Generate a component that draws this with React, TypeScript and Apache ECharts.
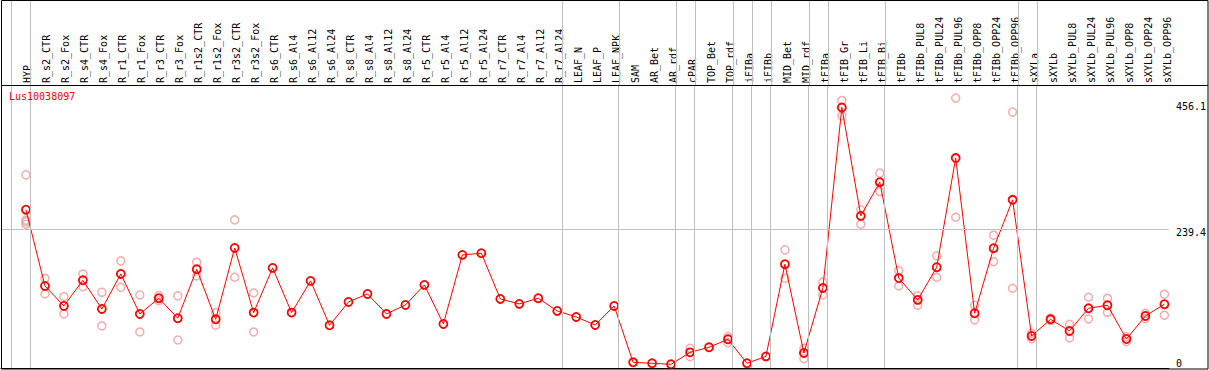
import React, { useEffect, useRef } from "react";
import * as echarts from "echarts";

const categories = [
  "HYP", "R_s2_CTR", "R_s2_Fox", "R_s4_CTR", "R_s4_Fox", "R_r1_CTR", "R_r1_Fox", "R_r3_CTR", "R_r3_Fox",
  "R_r1s2_CTR", "R_r1s2_Fox", "R_r3s2_CTR", "R_r3s2_Fox", "R_s6_CTR", "R_s6_Al4", "R_s6_Al12", "R_s6_Al24",
  "R_s8_CTR", "R_s8_Al4", "R_s8_Al12", "R_s8_Al24", "R_r5_CTR", "R_r5_Al4", "R_r5_Al12", "R_r5_Al24",
  "R_r7_CTR", "R_r7_Al4", "R_r7_Al12", "R_r7_Al24", "LEAF_N", "LEAF_P", "LEAF_NPK", "SAM", "AR_Bet", "AR_rdf",
  "cPAR", "TOP_Bet", "TOP_rdf", "iFIBa", "iFIBb", "MID_Bet", "MID_rdf", "tFIBa", "tFIB_Gr", "tFIB_Li", "tFIB_Bi",
  "tFIBb", "tFIBb_PUL8", "tFIBb_PUL24", "tFIBb_PUL96", "tFIBb_OPP8", "tFIBb_OPP24", "tFIBb_OPP96",
  "sXYLa", "sXYLb", "sXYLb_PUL8", "sXYLb_PUL24", "sXYLb_PUL96", "sXYLb_OPP8", "sXYLb_OPP24", "sXYLb_OPP96",
];

const meanValues = [
  273, 141.5, 107, 151.3, 101.8, 162.2, 93.2, 120.3, 85.8, 170.3, 84, 207, 95.5, 172.6, 95.5, 150.2, 73.7,
  113.9, 127.7, 93.2, 108.7, 143.3, 75.9, 195, 197.9, 119.1, 110.5, 120.3, 98.4, 88, 74.2, 107, 9.8, 8.1, 6.4,
  27, 35.7, 49.5, 8.1, 20, 179, 25.9, 138, 449.3, 262.3, 320.5, 155, 117.4, 173.8, 362, 94.4, 206.6, 290,
  55.2, 84, 63.9, 103, 108.2, 50, 89.7, 110,
];

const replicateValues: number[][] = [
  [333, 255, 252, 248], [154.8, 127.7], [123, 93.2], [162.2, 140.3], [130.6, 72.5], [184.7, 139], [126, 62.1],
  [124.8, 116.2], [124.3, 48.3], [182.4, 158.8], [95.5, 73.7], [255.4, 156.5], [129.4, 62.1],
  [], [], [], [], [], [], [], [], [], [], [], [], [], [], [], [], [], [], [], [], [], [],
  [34, 19.5], [], [54, 43.7], [], [], [203.7, 154.8], [34, 16], [148, 126], [461.3, 435], [272.7, 248],
  [336, 304.3], [168, 141.5], [124.3, 108.2], [193.3, 156.5], [465.5, 260], [108.2, 82.8], [229, 183.5],
  [441.3, 137.5], [59.9, 50.6], [86, 82], [75.4, 51.8], [122, 84.6], [120.3, 96.1], [54, 45.4], [94.4, 85],
  [127.2, 91],
];

// separators drawn just after these category indices (-1 = before the first)
const separatorAfter = [-1, 0, 28, 31, 34, 35, 37, 38, 39, 41, 42, 45, 52, 53, 60];
const yTickLabels = [0, 239.4, 456.1];
const geneId = "Lus10038097";

export default function App() {
  const ref = useRef<HTMLDivElement>(null);
  useEffect(() => {
    if (!ref.current) return;
    const chart = echarts.init(ref.current, null, { renderer: "svg" });
    const xMin = -1.3158;
    const xMax = 60.237;
    const sepOffset = 0.237;
    const labelShift = 1.5 / 19; // small nudge so label glyphs centre on the points
    const mono = "DejaVu Sans Mono";
    const idx = categories.map((_, i) => i);
    const sepLines = separatorAfter.map((i) => ({ xAxis: i + sepOffset }));
    const repData: number[][] = [];
    replicateValues.forEach((vals, i) => vals.forEach((v) => repData.push([i, v])));

    chart.setOption({
      animation: false,
      backgroundColor: "#fff",
      title: {
        text: geneId,
        left: 9,
        top: 91,
        padding: 0,
        textStyle: { color: "#ff0000", fontSize: 10, fontWeight: "normal", fontFamily: mono },
      },
      grid: [
        { left: 1, right: 38.5, top: 0, height: 85 },
        { left: 1, right: 38.5, top: 85, bottom: 2 },
        { left: 1, right: 38.5, top: 0, height: 85 },
      ],
      xAxis: [
        { gridIndex: 0, type: "value", min: xMin, max: xMax, show: false },
        {
          gridIndex: 1,
          type: "value",
          min: xMin,
          max: xMax,
          position: "top",
          axisLine: { show: true, lineStyle: { color: "#000", width: 1 } },
          axisTick: { show: false },
          splitLine: { show: false },
          axisLabel: { show: false },
        },
        {
          gridIndex: 2,
          type: "value",
          min: xMin - labelShift,
          max: xMax - labelShift,
          position: "bottom",
          axisLine: { show: false },
          axisTick: { show: false },
          splitLine: { show: false },
          axisLabel: {
            inside: true,
            customValues: idx,
            formatter: (v: number) => categories[Math.round(v)] ?? "",
            rotate: 90,
            margin: 2,
            fontFamily: mono,
            fontSize: 10,
            color: "#000",
            hideOverlap: false,
          },
        },
      ],
      yAxis: [
        { gridIndex: 0, type: "value", min: 0, max: 1, show: false },
        {
          gridIndex: 1,
          type: "value",
          min: 0,
          max: 488,
          position: "right",
          axisLine: { show: false },
          axisTick: { show: false },
          splitLine: { show: false },
          axisLabel: {
            customValues: yTickLabels,
            margin: 7,
            formatter: (v: number) => (v === 0 ? "{z|0}" : `{n|${v}}`),
            rich: {
              n: { fontFamily: mono, fontSize: 10, color: "#000", padding: [6, 0, 0, 0] },
              z: { fontFamily: mono, fontSize: 10, color: "#000", padding: [0, 0, 10, 0] },
            },
          },
        },
        { gridIndex: 2, type: "value", min: 0, max: 1, show: false },
      ],
      series: [
        {
          type: "line",
          xAxisIndex: 0,
          yAxisIndex: 0,
          data: [],
          silent: true,
          markLine: {
            silent: true,
            symbol: "none",
            label: { show: false },
            lineStyle: { color: "#c0c0c0", type: "solid", width: 1 },
            data: sepLines,
          },
        },
        {
          type: "scatter",
          xAxisIndex: 1,
          yAxisIndex: 1,
          data: repData,
          symbol: "circle",
          symbolSize: 8,
          itemStyle: { color: "transparent", borderColor: "#ef9a9a", borderWidth: 1.5 },
          z: 2,
        },
        {
          type: "line",
          xAxisIndex: 1,
          yAxisIndex: 1,
          data: meanValues.map((v, i) => [i, v]),
          symbol: "circle",
          symbolSize: 8,
          showAllSymbol: true,
          lineStyle: { color: "#ff0000", width: 1 },
          itemStyle: { color: "transparent", borderColor: "#ff0000", borderWidth: 1.8 },
          z: 3,
          markLine: {
            silent: true,
            symbol: "none",
            label: { show: false },
            lineStyle: { color: "#c0c0c0", type: "solid", width: 1 },
            data: [...sepLines, { yAxis: 239.4 }],
          },
        },
      ],
      graphic: [
        {
          type: "rect",
          shape: { x: 1.5, y: 0.5, width: 1206.5, height: 368.5 },
          style: { fill: "none", stroke: "#000", lineWidth: 1 },
          silent: true,
          z: 10,
        },
        {
          type: "line",
          shape: { x1: 1, y1: 85.5, x2: 1208, y2: 85.5 },
          style: { stroke: "#000", lineWidth: 1 },
          silent: true,
          z: 10,
        },
      ],
    });
    return () => chart.dispose();
  }, []);
  return (
    <div
      ref={ref}
      style={{ position: "fixed", left: 0, top: 0, width: 1209, height: 370 }}
    />
  );
}
